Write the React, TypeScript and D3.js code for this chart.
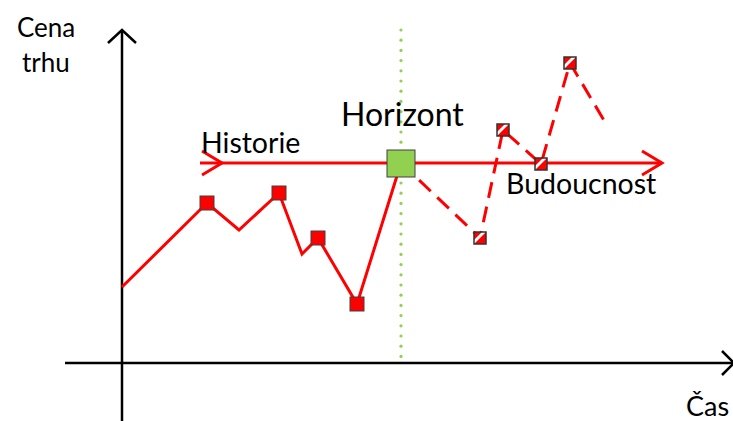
import React from "react";
import * as d3 from "d3";

// time (px-like units from the y axis) and market price (units above the x axis)
const historyT = [0, 85, 117, 157, 180, 196, 235, 279];
const historyP = [76, 160, 133, 170, 109, 125, 59, 200];
const historyMarked = [1, 3, 5, 6];

const futureT = [279, 358, 381, 419, 448, 483];
const futureP = [200, 125, 233, 199, 300, 241];
const futureMarked = [1, 2, 3, 4];

const horizonT = 279;
const horizonP = 200;
const arrowFromT = 78;
const arrowToT = 540;
const arrowChevronT = [100, 540];

const W = 733;
const H = 421;
const RED = "#ff0000";
const GREEN = "#92d050";
const FONT = "Lato, 'Open Sans', sans-serif";

export default function App() {
  const x = d3.scaleLinear().domain([0, 611]).range([122, 733]);
  const y = d3.scaleLinear().domain([0, 363]).range([363, 0]);

  const hist = historyT.map((t, i) => ({ t, p: historyP[i] }));
  const fut = futureT.map((t, i) => ({ t, p: futureP[i] }));
  const line = d3
    .line<{ t: number; p: number }>()
    .x((d) => x(d.t))
    .y((d) => y(d.p));

  const ay = y(horizonP);
  const chevron = (tip: number) =>
    `M${tip - 20},${ay - 12}L${tip},${ay}L${tip - 20},${ay + 12}`;

  const dots = d3.range(30, 362, 10.2);

  return (
    <svg
      width={W}
      height={H}
      style={{ position: "absolute", left: 0, top: 0, background: "#fff" }}
      fontFamily={FONT}
    >
      {/* axes */}
      <g stroke="#000" strokeWidth={2.5} fill="none">
        <line x1={x(0)} x2={x(0)} y1={H} y2={31} />
        <path d={`M${x(0) - 14},${43}L${x(0)},${30}L${x(0) + 14},${43}`} />
        <line x1={65} x2={W} y1={y(0)} y2={y(0)} />
        <path d={`M${W - 11},${y(0) - 12}L${W + 1},${y(0)}L${W - 11},${y(0) + 12}`} />
      </g>

      {/* horizon dotted line */}
      {dots.map((d, i) => (
        <circle key={i} cx={x(horizonT)} cy={d} r={1.6} fill={GREEN} />
      ))}

      {/* history / future arrow */}
      <g stroke={RED} strokeWidth={3} fill="none">
        <line x1={x(arrowFromT)} x2={x(arrowToT)} y1={ay} y2={ay} />
        {arrowChevronT.map((t) => (
          <path key={t} d={chevron(x(t))} />
        ))}
      </g>

      {/* history price */}
      <path d={line(hist) || ""} stroke={RED} strokeWidth={3} fill="none" />
      {/* future price */}
      <path
        d={line(fut) || ""}
        stroke={RED}
        strokeWidth={3}
        fill="none"
        strokeDasharray="16 9"
      />

      {historyMarked.map((i) => (
        <rect
          key={i}
          x={x(hist[i].t) - 7}
          y={y(hist[i].p) - 7}
          width={14}
          height={14}
          fill={RED}
          stroke="#404040"
          strokeWidth={1}
        />
      ))}

      {futureMarked.map((i) => {
        const cx = x(fut[i].t);
        const cy = y(fut[i].p);
        const s = 6;
        return (
          <g key={i}>
            <rect x={cx - s} y={cy - s} width={2 * s} height={2 * s} fill={RED} />
            <path
              d={`M${cx - s},${cy + 2}L${cx + 2},${cy - s}L${cx + s},${cy - s}L${cx - s},${cy + s}Z`}
              fill="#fff"
            />
            <rect
              x={cx - s}
              y={cy - s}
              width={2 * s}
              height={2 * s}
              fill="none"
              stroke="#333"
              strokeWidth={1.5}
            />
          </g>
        );
      })}

      <rect
        x={x(horizonT) - 14}
        y={y(horizonP) - 13}
        width={28}
        height={27}
        fill={GREEN}
        stroke="#404040"
        strokeWidth={1}
      />

      {/* labels */}
      <g fill="#000">
        <text x={17} y={37} fontSize={26}>Cena</text>
        <text x={22} y={72} fontSize={26}>trhu</text>
        <text x={341} y={126} fontSize={32}>Horizont</text>
        <text x={201} y={153} fontSize={28.5}>Historie</text>
        <text x={506} y={194} fontSize={28.5}>Budoucnost</text>
        <text x={686} y={416} fontSize={27}>Čas</text>
      </g>
    </svg>
  );
}
